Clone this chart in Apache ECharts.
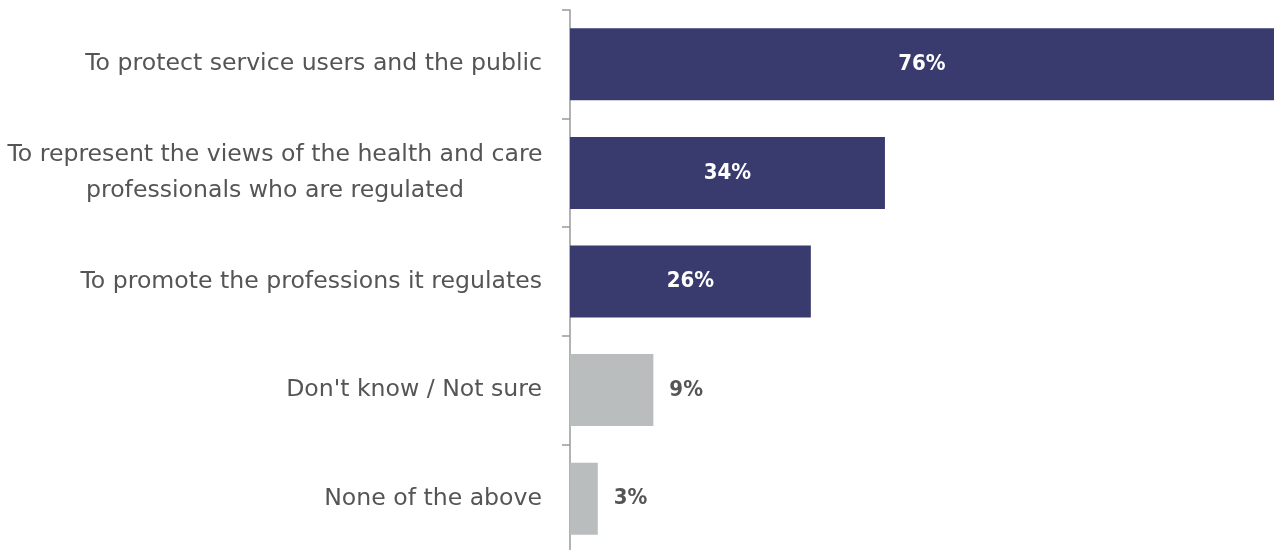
<!DOCTYPE html>
<html>
<head>
<meta charset="utf-8">
<script src="https://cdn.jsdelivr.net/npm/echarts@6/dist/echarts.min.js"></script>
<style>html,body{margin:0;padding:0;background:#fff;}#c{width:1274px;height:550px;}</style>
</head>
<body>
<div id="c"></div>
<script>
const categories = [
  "To protect service users and the public",
  "To represent the views of the health and care\nprofessionals who are regulated",
  "To promote the professions it regulates",
  "Don't know / Not sure",
  "None of the above"
];
const values = [76, 34, 26, 9, 3];
const highlighted = [true, true, true, false, false];

const DARK = '#393b6f', GREY = '#b9bdbd';
const chart = echarts.init(document.getElementById('c'));
const data = values.map((v, i) => ({
  value: v,
  itemStyle: { color: highlighted[i] ? DARK : GREY },
  label: highlighted[i]
    ? { position: 'inside', color: '#ffffff' }
    : { position: 'right', color: '#555555', distance: 16 }
}));
chart.setOption({
  animation: false,
  grid: { left: 570, right: 0, top: 10, height: 543, outerBoundsMode: 'none', containLabel: false },
  xAxis: { type: 'value', min: 0, max: 76, show: false },
  yAxis: {
    type: 'category', inverse: true, data: categories,
    axisLine: { show: true, lineStyle: { color: '#999999', width: 1.5 } },
    axisTick: { show: true, length: 8, lineStyle: { color: '#999999', width: 1.5 } },
    axisLabel: {
      margin: 28, color: '#555555', fontSize: 23.6, fontFamily: 'DejaVu Sans',
      lineHeight: 36, align: 'right',
      formatter: function (v) {
        const lines = v.split('\n');
        if (lines.length === 1) return v;
        return lines.map(l => '{c|' + l + '}').join('\n');
      },
      rich: { c: { width: 534, align: 'center', fontSize: 23.6, fontFamily: 'DejaVu Sans', color: '#555555', lineHeight: 36 } }
    }
  },
  series: [{
    type: 'bar', data: data, barWidth: 72,
    label: { show: true, formatter: '{c}%', fontSize: 22, fontWeight: 'bold', fontFamily: '"DejaVu Sans Condensed", "DejaVu Sans"' }
  }]
});
</script>
</body>
</html>
